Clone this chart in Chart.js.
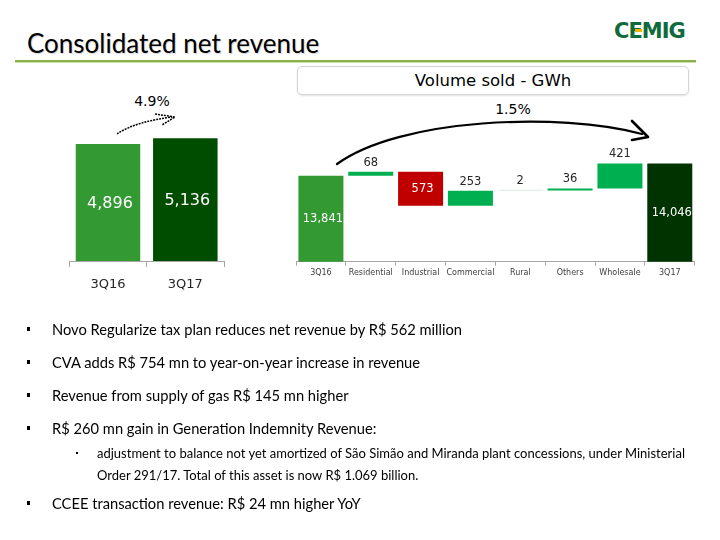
<!DOCTYPE html>
<html>
<head>
<meta charset="utf-8">
<script src="https://cdn.jsdelivr.net/npm/chart.js@4/dist/chart.umd.min.js"></script>
<style>
  html,body{margin:0;padding:0;background:#fff;}
  #page{position:relative;width:720px;height:540px;overflow:hidden;background:#fff;font-family:Lato,"Open Sans",sans-serif;color:#000;}
  .abs{position:absolute;}
  #title{left:27px;top:28px;font-size:26px;line-height:30px;color:#000;text-shadow:1px 1px 1px rgba(0,0,0,0.18);white-space:nowrap;}
  #rule1{left:15px;top:60px;width:681px;height:2px;background:#8db04f;}
  #rule2{left:15px;top:62px;width:681px;height:1px;background:#c5dca0;}
  #logo{left:614px;top:16px;font-family:"DejaVu Sans";font-weight:bold;font-size:21px;line-height:30px;color:#0e6b3b;letter-spacing:-1px;white-space:nowrap;}
  #logodot{left:635px;top:29px;width:7px;height:3px;background:#f2b600;}
  #volbox{left:297px;top:66px;width:390px;height:27px;border:1px solid #d5d5d5;border-radius:5px;box-shadow:0 1px 2px rgba(0,0,0,0.12);text-align:center;font-family:"DejaVu Sans";font-size:16.5px;line-height:27px;color:#000;}
  .pct{font-family:"DejaVu Sans";font-size:14px;line-height:18px;white-space:nowrap;transform:translateX(-50%);}
  .b{font-size:14.7px;line-height:20px;white-space:nowrap;}
  .sq{width:3px;height:4px;background:#000;}
  .dot{width:2px;height:2px;background:#000;}
  .s{font-size:13px;line-height:20px;white-space:nowrap;}
  canvas{position:absolute;}
</style>
</head>
<body>
<div id="page">
  <div id="title" class="abs">Consolidated net revenue</div>
  <div id="rule1" class="abs"></div>
  <div id="rule2" class="abs"></div>
  <div id="logo" class="abs">CEMIG</div>
  <div id="logodot" class="abs"></div>
  <div id="volbox" class="abs">Volume sold - GWh</div>
  <div class="abs pct" style="left:152px;top:92px;">4.9%</div>
  <div class="abs pct" style="left:513px;top:100px;">1.5%</div>

  <canvas id="left" width="180" height="210" style="left:60px;top:90px;width:180px;height:210px;"></canvas>
  <canvas id="right" width="420" height="190" style="left:290px;top:100px;width:420px;height:190px;"></canvas>

  <svg class="abs" style="left:0;top:0;" width="720" height="540" viewBox="0 0 720 540">
    <path d="M117,134 C130,125 150,120 172,117" fill="none" stroke="#000" stroke-width="1.5" stroke-dasharray="2,1"/>
    <polyline points="155,114 175,117 162,125" fill="none" stroke="#000" stroke-width="1.5" stroke-dasharray="2,1"/>
    <path d="M337,164 C400,118 560,112 642,134" fill="none" stroke="#000" stroke-width="2.2" stroke-linecap="round"/>
    <polyline points="632,121 648,137 632,140" fill="none" stroke="#000" stroke-width="2.6" stroke-linecap="round" stroke-linejoin="round"/>
  </svg>

  <div class="abs sq" style="left:27px;top:327px;"></div>
  <div class="abs b" style="left:52px;top:319px;">Novo Regularize tax plan reduces net revenue by R$ 562 million</div>
  <div class="abs sq" style="left:27px;top:360px;"></div>
  <div class="abs b" style="left:52px;top:352px;">CVA adds R$ 754 mn to year-on-year increase in revenue</div>
  <div class="abs sq" style="left:27px;top:393px;"></div>
  <div class="abs b" style="left:52px;top:385px;">Revenue from supply of gas R$ 145 mn higher</div>
  <div class="abs sq" style="left:27px;top:426px;"></div>
  <div class="abs b" style="left:52px;top:418px;">R$ 260 mn gain in Generation Indemnity Revenue:</div>
  <div class="abs dot" style="left:76px;top:452px;"></div>
  <div class="abs s" style="left:97px;top:443px;">adjustment to balance not yet amortized of São Simão and Miranda plant concessions, under Ministerial</div>
  <div class="abs s" style="left:97px;top:465px;">Order 291/17. Total of this asset is now R$ 1.069 billion.</div>
  <div class="abs sq" style="left:27px;top:501px;"></div>
  <div class="abs b" style="left:52px;top:493px;">CCEE transaction revenue: R$ 24 mn higher YoY</div>
</div>

<script>
// ---- data ----
const revenueCategories = ['3Q16', '3Q17'];
const revenueValues = [4896, 5136];

const volumeCategories = ['3Q16', 'Residential', 'Industrial', 'Commercial', 'Rural', 'Others', 'Wholesale', '3Q17'];
const volumeStart = 13841;
const volumeDeltas = [68, -573, 253, 2, 36, 421];
const volumeEnd = 14046;

// ---- build ----
const fmt = v => Math.abs(v).toLocaleString('en-US');
const FONT = 'DejaVu Sans';

// waterfall floating ranges
const volMin = 12391, volMax = 15118;
const wfData = [volumeStart];
let run = volumeStart;
volumeDeltas.forEach(d => { wfData.push([run, run + d]); run += d; });
wfData.push(volumeEnd);
const wfText = [volumeStart, ...volumeDeltas, volumeEnd];
const wfColors = ['#339933', '#00b050', '#c00000', '#00b050', '#d3f1e0', '#00b050', '#00b050', '#003300'];

const leftLabels = {
  id: 'leftLabels',
  afterDatasetsDraw(chart) {
    const ctx = chart.ctx;
    const meta = chart.getDatasetMeta(0);
    const area = chart.chartArea;
    ctx.save();
    ctx.font = '16px "' + FONT + '"';
    ctx.fillStyle = '#ffffff';
    ctx.textAlign = 'center';
    ctx.textBaseline = 'middle';
    meta.data.forEach((bar, i) => {
      const top = Math.max(Math.min(bar.y, bar.base), area.top);
      const bot = Math.min(Math.max(bar.y, bar.base), area.bottom);
      ctx.fillText(fmt(revenueValues[i]), bar.x + 2, (top + bot) / 2 + 1);
    });
    ctx.restore();
  }
};

const rightLabels = {
  id: 'rightLabels',
  afterDatasetsDraw(chart) {
    const ctx = chart.ctx;
    const meta = chart.getDatasetMeta(0);
    const area = chart.chartArea;
    const n = meta.data.length;
    ctx.save();
    ctx.font = '11.5px "' + FONT + '"';
    ctx.textAlign = 'center';
    ctx.textBaseline = 'middle';
    meta.data.forEach((bar, i) => {
      const v = wfText[i];
      const top = Math.max(Math.min(bar.y, bar.base), area.top);
      const bot = Math.min(Math.max(bar.y, bar.base), area.bottom);
      const inside = (i === 0 || i === n - 1 || v < 0);
      if (inside) {
        ctx.fillStyle = '#ffffff';
        ctx.fillText(fmt(v), bar.x + 2, (top + bot) / 2 + 0.5);
      } else {
        ctx.fillStyle = '#262626';
        ctx.fillText(fmt(v), bar.x, top - 9);
      }
    });
    ctx.restore();
  }
};

new Chart(document.getElementById('left'), {
  type: 'bar',
  data: {
    labels: revenueCategories,
    datasets: [{
      data: revenueValues,
      backgroundColor: ['#339933', '#004d00'],
      borderWidth: 0,
      barPercentage: 0.834,
      categoryPercentage: 1
    }]
  },
  options: {
    responsive: false, animation: false, devicePixelRatio: 1,
    layout: { padding: { left: 9.3, right: 16, top: 0, bottom: 0 } },
    plugins: { legend: { display: false }, tooltip: { enabled: false } },
    scales: {
      y: { display: false, min: 0, max: 7150 },
      x: {
        grid: { display: true, drawOnChartArea: false, drawTicks: true, tickLength: 6, color: '#a6a6a6', offset: true },
        border: { display: true, color: '#a6a6a6' },
        ticks: { font: { family: FONT, size: 13 }, color: '#262626', padding: 9.5 },
        afterFit(a) { a.height = 39; }
      }
    }
  },
  plugins: [leftLabels]
});

new Chart(document.getElementById('right'), {
  type: 'bar',
  data: {
    labels: volumeCategories,
    datasets: [{
      data: wfData,
      backgroundColor: wfColors,
      borderWidth: 0,
      barPercentage: 0.903,
      categoryPercentage: 1,
      minBarLength: 1
    }]
  },
  options: {
    responsive: false, animation: false, devicePixelRatio: 1,
    layout: { padding: { left: 6, right: 15.3, top: 0, bottom: 0 } },
    plugins: { legend: { display: false }, tooltip: { enabled: false } },
    scales: {
      y: { display: false, min: volMin, max: volMax },
      x: {
        grid: { display: true, drawOnChartArea: false, drawTicks: true, tickLength: 4, color: '#a6a6a6', offset: true },
        border: { display: true, color: '#a6a6a6' },
        ticks: { font: { family: FONT, size: 8 }, color: '#404040', padding: 2, maxRotation: 0, autoSkip: false },
        afterFit(a) { a.height = 28.3; }
      }
    }
  },
  plugins: [rightLabels]
});
</script>
</body>
</html>
